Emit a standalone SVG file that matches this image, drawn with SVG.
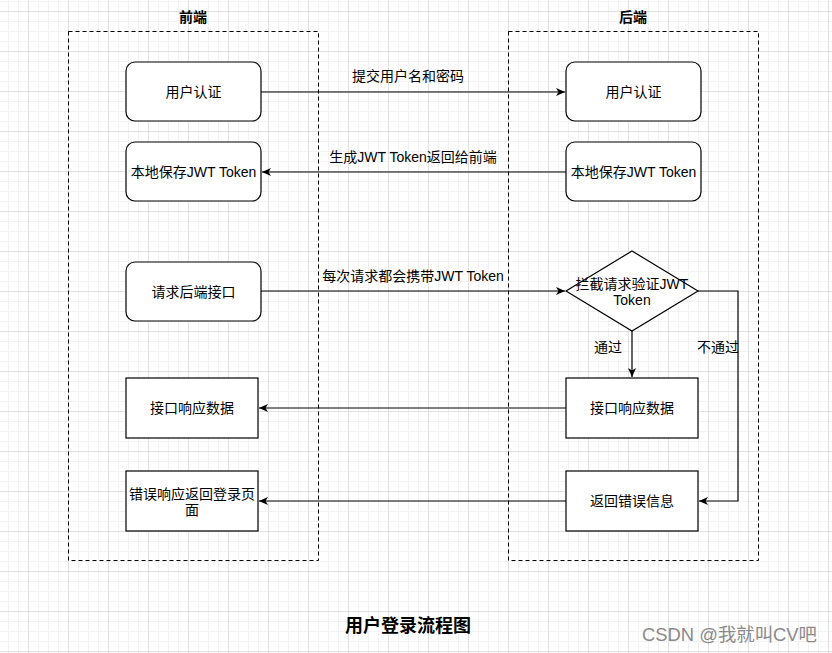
<svg xmlns="http://www.w3.org/2000/svg" width="832" height="653" viewBox="0 0 832 653">
  <defs>
    <pattern id="grid" patternUnits="userSpaceOnUse" x="28" y="11" width="40" height="40">
      <path d="M10.5 0V40M20.5 0V40M30.5 0V40M0 10.5H40M0 20.5H40M0 30.5H40" stroke="#f2f2f2" stroke-width="1" fill="none"/>
      <path d="M0.5 0V40M0 0.5H40" stroke="#e0e0e0" stroke-width="1" fill="none"/>
    </pattern>
    <marker id="arrow" markerWidth="10" markerHeight="10" viewBox="0 0 10 10" refX="9" refY="5" orient="auto" markerUnits="userSpaceOnUse">
      <path d="M0 1 L9 5 L0 9 L2.5 5 Z" fill="#000"/>
    </marker>
  </defs>
  <style>
    .t { font-family: "Liberation Sans", "Noto Sans CJK SC", sans-serif; font-size: 14px; fill: #000; text-anchor: middle; }
    .h { font-family: "Liberation Sans", "Noto Sans CJK SC", sans-serif; font-size: 14px; font-weight: bold; fill: #000; text-anchor: middle; }
    .node { fill: #fff; stroke: #000; stroke-width: 1.2; }
    .grp { fill: none; stroke: #000; stroke-width: 1; stroke-dasharray: 4 3; }
    .edge { fill: none; stroke: #000; stroke-width: 1.2; marker-end: url(#arrow); }
  </style>
  <rect x="0" y="0" width="832" height="653" fill="#fff"/>
  <rect x="0" y="0" width="832" height="653" fill="url(#grid)"/>

  <g id="frontend">
    <rect class="grp" x="68.5" y="31.5" width="250" height="529"/>
    <text class="h" x="193" y="22">前端</text>
  </g>
  <g id="backend">
    <rect class="grp" x="508.5" y="31.5" width="250" height="529"/>
    <text class="h" x="633" y="22">后端</text>
  </g>

  <g id="connectors">
    <path class="edge" d="M261 92 H565"/>
    <text class="t" x="408" y="81">提交用户名和密码</text>
    <path class="edge" d="M566 172 H262"/>
    <text class="t" x="413" y="162">生成JWT Token返回给前端</text>
    <path class="edge" d="M261 291 H565"/>
    <text class="t" x="413" y="281">每次请求都会携带JWT Token</text>
    <path class="edge" d="M632 331 V377"/>
    <text class="t" x="608" y="352">通过</text>
    <path class="edge" d="M698 291 H738 V501 H699"/>
    <text class="t" x="718" y="352">不通过</text>
    <path class="edge" d="M566 408 H259"/>
    <path class="edge" d="M566 501 H259"/>
  </g>

  <g id="fe-auth">
    <rect class="node" x="126" y="62" width="135" height="59" rx="9"/>
    <text class="t" x="193.5" y="96.5">用户认证</text>
  </g>
  <g id="be-auth">
    <rect class="node" x="566" y="62" width="135" height="59" rx="9"/>
    <text class="t" x="633.5" y="96.5">用户认证</text>
  </g>
  <g id="fe-save">
    <rect class="node" x="126" y="142" width="135" height="59" rx="9"/>
    <text class="t" x="193.5" y="176.5">本地保存JWT Token</text>
  </g>
  <g id="be-save">
    <rect class="node" x="566" y="142" width="135" height="59" rx="9"/>
    <text class="t" x="633.5" y="176.5">本地保存JWT Token</text>
  </g>
  <g id="fe-request">
    <rect class="node" x="126" y="262" width="135" height="59" rx="9"/>
    <text class="t" x="193.5" y="296.5">请求后端接口</text>
  </g>
  <g id="be-check">
    <path class="node" d="M632 251 L698 291 L632 331 L566 291 Z"/>
    <text class="t" x="632" y="289">拦截请求验证JWT</text>
    <text class="t" x="632" y="305">Token</text>
  </g>
  <g id="fe-data">
    <rect class="node" x="126" y="378" width="132" height="60"/>
    <text class="t" x="192" y="413">接口响应数据</text>
  </g>
  <g id="be-data">
    <rect class="node" x="566" y="378" width="132" height="60"/>
    <text class="t" x="632" y="413">接口响应数据</text>
  </g>
  <g id="fe-error">
    <rect class="node" x="126" y="471" width="132" height="60"/>
    <text class="t" x="192" y="499">错误响应返回登录页</text>
    <text class="t" x="192" y="515">面</text>
  </g>
  <g id="be-error">
    <rect class="node" x="566" y="471" width="132" height="60"/>
    <text class="t" x="632" y="506">返回错误信息</text>
  </g>

  <text x="408" y="632" style="font-family: 'Liberation Sans','Noto Sans CJK SC',sans-serif; font-size: 18px; font-weight: bold; text-anchor: middle; fill: #000;">用户登录流程图</text>
  <text x="817" y="641" style="font-family: 'Liberation Sans','Noto Sans CJK SC',sans-serif; font-size: 18.4px; text-anchor: end; fill: #8a8a8a;">CSDN @我就叫CV吧</text>
</svg>
